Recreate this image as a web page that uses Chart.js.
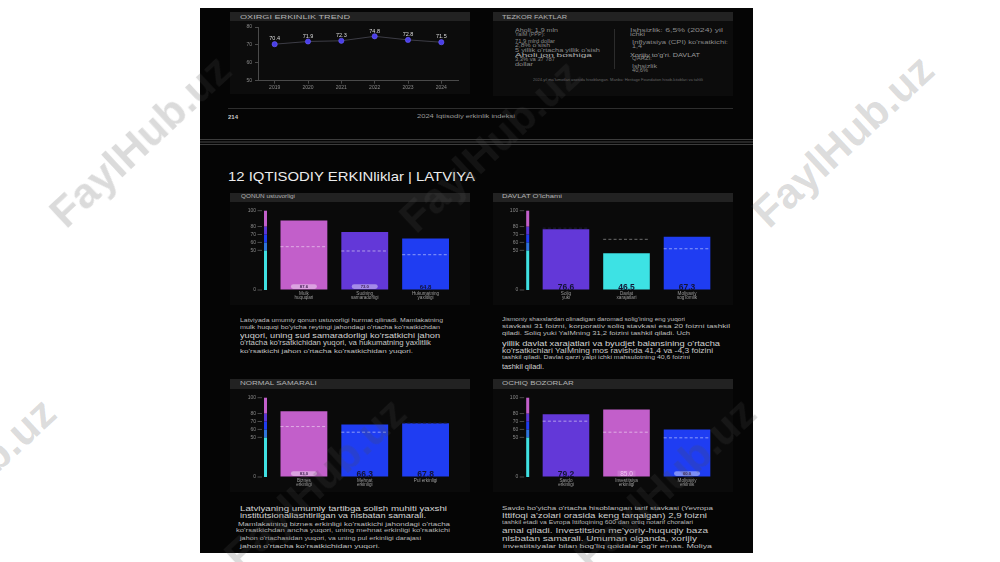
<!DOCTYPE html>
<html>
<head>
<meta charset="utf-8">
<script src="https://cdn.jsdelivr.net/npm/chart.js@4.4.1/dist/chart.umd.min.js"></script>
<style>
  html, body { margin: 0; width: 1000px; height: 562px; background: #fff; overflow: hidden; position: relative;
    font-family: "Liberation Sans", Arial, sans-serif; }
  .box { position: absolute; }
  .txt { position: absolute; white-space: nowrap; line-height: 1; transform-origin: 0 50%; }
  canvas { position: absolute; }
  .wm { position: absolute; white-space: nowrap; font: bold 43px "Liberation Sans", Arial, sans-serif;
    color: rgba(76,76,76,0.2); transform: translate(-50%, -50%) rotate(-43deg); pointer-events: none; }
</style>
</head>
<body>

<div class="box" style="left:200px;top:8px;width:553px;height:545px;background:#050505"></div>
<!-- page break -->
<div class="box" style="left:200px;top:139px;width:553px;height:1px;background:#3c3c3c"></div>
<div class="box" style="left:200px;top:141px;width:553px;height:2px;background:#262626"></div>
<div class="box" style="left:200px;top:144px;width:553px;height:1px;background:#3c3c3c"></div>

<!-- panels -->
<div class="box" style="left:230px;top:12px;width:240px;height:82px;background:#0c0c0c"></div>
<div class="box" style="left:230px;top:12px;width:240px;height:9px;background:#222"></div>
<div class="box" style="left:493px;top:12px;width:240px;height:84px;background:#0c0c0c"></div>
<div class="box" style="left:493px;top:12px;width:240px;height:9px;background:#222"></div>
<div class="box" style="left:614px;top:29px;width:1px;height:40px;background:#2c2c2c"></div>
<div class="box" style="left:228px;top:108px;width:505px;height:1px;background:#2e2e2e"></div>

<div class="box" style="left:230px;top:193px;width:240px;height:112px;background:#0a0a0a"></div>
<div class="box" style="left:230px;top:193px;width:240px;height:9px;background:#222"></div>
<div class="box" style="left:493px;top:193px;width:240px;height:112px;background:#0a0a0a"></div>
<div class="box" style="left:493px;top:193px;width:240px;height:9px;background:#222"></div>
<div class="box" style="left:230px;top:379px;width:240px;height:113px;background:#0a0a0a"></div>
<div class="box" style="left:230px;top:379px;width:240px;height:10px;background:#222"></div>
<div class="box" style="left:493px;top:379px;width:240px;height:113px;background:#0a0a0a"></div>
<div class="box" style="left:493px;top:379px;width:240px;height:10px;background:#222"></div>

<canvas id="trend" width="240" height="71" style="left:230px;top:21px"></canvas>
<canvas id="qonun" width="242" height="102" style="left:228px;top:203px"></canvas>
<canvas id="davlat" width="240" height="102" style="left:493px;top:203px"></canvas>
<canvas id="normal" width="242" height="102" style="left:228px;top:390px"></canvas>
<canvas id="ochiq" width="240" height="102" style="left:493px;top:390px"></canvas>

<script>
// ---- data ----
const trendYears = ["2019", "2020", "2021", "2022", "2023", "2024"];
const trendScores = [70.4, 71.9, 72.3, 74.8, 72.8, 71.5];

const scoreTicks = [0, 50, 60, 70, 80, 100];

const qonunLabels = [["Mulk", "huquqlari"], ["Sudning", "samaradorligi"], ["Hukumatning", "yaxlitligi"]];
const qonunScores = [87.6, 73.0, 64.8];
const qonunWorld = [54.6, 49.2, 44.5];

const davlatLabels = [["Soliq", "yuki"], ["Davlat", "xarajatlari"], ["Moliyaviy", "sog'lomlik"]];
const davlatScores = [76.6, 46.5, 67.3];
const davlatWorld = [78.0, 63.9, 52.0];

const normalLabels = [["Biznes", "erkinligi"], ["Mehnat", "erkinligi"], ["Pul erkinligi"]];
const normalScores = [83.0, 66.3, 67.8];
const normalWorld = [63.6, 56.5, 68.0];

const ochiqLabels = [["Savdo", "erkinligi"], ["Investitsiya", "erkinligi"], ["Moliyaviy", "erkinlik"]];
const ochiqScores = [79.2, 85.0, 60.0];
const ochiqWorld = [70.4, 56.5, 49.4];

// ---- colours ----
const bands = [
  { from: 0, to: 50, color: "#3fe0e2" },
  { from: 50, to: 60, color: "#2f74dc" },
  { from: 60, to: 70, color: "#1f3cf0" },
  { from: 70, to: 80, color: "#5b36d6" },
  { from: 80, to: 100, color: "#c25fca" },
];
function colorFor(v) {
  if (v >= 80) return "#c25fca";
  if (v >= 70) return "#6338d8";
  if (v >= 60) return "#1f3df2";
  if (v >= 50) return "#2f74dc";
  return "#3de2e4";
}

// ---- plugins ----
const pointLabels = {
  id: "pointLabels",
  afterDatasetsDraw(chart) {
    const { ctx } = chart;
    const ds = chart.data.datasets[0];
    ctx.save();
    ctx.fillStyle = "#dcdcdc";
    ctx.font = "5.5px 'Liberation Sans', Arial";
    ctx.textAlign = "center";
    ctx.textBaseline = "bottom";
    chart.getDatasetMeta(0).data.forEach((pt, i) => {
      ctx.fillText(ds.data[i].toFixed(1), pt.x, pt.y - 2.5);
    });
    ctx.restore();
  },
};

const barDecor = {
  id: "barDecor",
  afterDatasetsDraw(chart, args, opts) {
    const { ctx, chartArea, scales: { y } } = chart;
    const scores = chart.data.datasets[0].data;
    ctx.save();
    // colour key strip next to the axis
    const sx = chartArea.left - 9.5;
    bands.forEach((b) => {
      const top = y.getPixelForValue(b.to);
      const bot = y.getPixelForValue(b.from);
      ctx.fillStyle = b.color;
      ctx.fillRect(sx, top, 3, bot - top);
    });
    ctx.strokeStyle = "#5a5a5a";
    ctx.lineWidth = 0.8;
    scoreTicks.forEach((v) => {
      const py = y.getPixelForValue(v);
      ctx.beginPath();
      ctx.moveTo(chartArea.left - 16, py);
      ctx.lineTo(chartArea.left - 11.5, py);
      ctx.stroke();
    });
    const base = y.getPixelForValue(0);
    chart.getDatasetMeta(0).data.forEach((bar, i) => {
      const v = scores[i];
      // world average dashed mark
      const ref = opts.world[i];
      const ry = y.getPixelForValue(ref);
      let col = "rgba(255,255,255,0.55)";
      if (Math.abs(ref - v) < 2) col = "#20203c";
      else if (ref > v) col = "#777";
      ctx.strokeStyle = col;
      ctx.lineWidth = 0.9;
      ctx.setLineDash([3, 2.2]);
      ctx.beginPath();
      ctx.moveTo(bar.x - bar.width / 2, ry);
      ctx.lineTo(bar.x + bar.width / 2, ry);
      ctx.stroke();
      ctx.setLineDash([]);
      // value tag at the bottom of the bar
      const kind = opts.tags[i];
      const txt = v.toFixed(1);
      const cy = base - 3.4;
      ctx.textAlign = "center";
      ctx.textBaseline = "middle";
      if (kind === "pill") {
        ctx.fillStyle = "rgba(255,255,255,0.42)";
        ctx.beginPath();
        ctx.roundRect(bar.x - 13, cy - 2.4, 26, 4.8, 2.4);
        ctx.fill();
        ctx.fillStyle = "#3b1c4c";
        ctx.font = "bold 4.2px 'Liberation Sans', Arial";
        ctx.fillText(txt, bar.x, cy + 0.2);
      } else if (kind === "soft") {
        ctx.fillStyle = "rgba(255,255,255,0.12)";
        ctx.fillRect(bar.x - 9, cy - 3, 18, 6);
        ctx.fillStyle = "rgba(255,225,255,0.75)";
        ctx.font = "6.5px 'Liberation Sans', Arial";
        ctx.fillText(txt, bar.x, cy + 0.3);
      } else if (kind === "darksm") {
        ctx.fillStyle = "#141436";
        ctx.font = "bold 6px 'Liberation Sans', Arial";
        ctx.fillText(txt, bar.x, cy + 0.3);
      } else {
        ctx.fillStyle = "#141436";
        ctx.font = "bold 8.5px 'Liberation Sans', Arial";
        ctx.fillText(txt, bar.x, cy + 0.6);
      }
    });
    ctx.restore();
  },
};

// ---- trend line ----
new Chart(document.getElementById("trend"), {
  type: "line",
  data: {
    labels: trendYears,
    datasets: [{
      data: trendScores, borderColor: "#4a4a56", borderWidth: 0.8, tension: 0,
      pointRadius: 2.6, pointBackgroundColor: "#4a3fe6", pointBorderColor: "#6b5eff", pointBorderWidth: 0.6,
    }],
  },
  options: {
    responsive: false, animation: false,
    layout: { padding: { left: 2, right: 12, top: 6, bottom: 0 } },
    plugins: { legend: { display: false }, tooltip: { enabled: false } },
    scales: {
      x: {
        offset: true,
        grid: { drawOnChartArea: false, color: "#4a4a4a", tickLength: 3, offset: false },
        border: { color: "#4a4a4a" },
        ticks: { color: "#8c8c8c", font: { size: 5 }, padding: 1 },
        afterFit: (s) => { s.height = 11.3; },
      },
      y: {
        min: 50, max: 80,
        grid: { drawOnChartArea: false, color: "#4a4a4a", tickLength: 3 },
        border: { color: "#4a4a4a" },
        ticks: { stepSize: 10, color: "#8c8c8c", font: { size: 5 }, padding: 3 },
        afterFit: (s) => { s.width = 26; },
      },
    },
  },
  plugins: [pointLabels],
});

// ---- score bars ----
function scoreChart(id, labels, scores, world, tags, yWidth, padRight) {
  return new Chart(document.getElementById(id), {
    type: "bar",
    data: {
      labels,
      datasets: [{ data: scores, backgroundColor: scores.map(colorFor), barPercentage: 0.77, categoryPercentage: 1 }],
    },
    options: {
      responsive: false, animation: false,
      layout: { padding: { left: 0, right: padRight, top: 7.7, bottom: 0 } },
      plugins: { legend: { display: false }, tooltip: { enabled: false }, barDecor: { world, tags } },
      scales: {
        x: {
          grid: { display: false, drawTicks: false }, border: { display: false },
          ticks: { color: "#9c9c9c", font: { size: 4.6, lineHeight: 0.75 }, padding: 2.5, maxRotation: 0, autoSkip: false },
          afterFit: (s) => { s.height = 15; },
        },
        y: {
          min: 0, max: 100,
          // invisible tick marks push the labels clear of the colour strip
          grid: { drawOnChartArea: false, drawTicks: true, tickLength: 17.5, color: "rgba(0,0,0,0)" },
          border: { display: false },
          afterBuildTicks: (s) => { s.ticks = scoreTicks.map((v) => ({ value: v })); },
          ticks: { color: "#8a8a8a", font: { size: 5 }, padding: 0 },
          afterFit: (s) => { s.width = yWidth; },
        },
      },
    },
    plugins: [barDecor],
  });
}

scoreChart("qonun", qonunLabels, qonunScores, qonunWorld, ["pill", "pill", "darksm"], 45.5, 14);
scoreChart("davlat", davlatLabels, davlatScores, davlatWorld, ["dark", "dark", "dark"], 42.7, 15.7);
scoreChart("normal", normalLabels, normalScores, normalWorld, ["pill", "dark", "dark"], 45.5, 14);
scoreChart("ochiq", ochiqLabels, ochiqScores, ochiqWorld, ["dark", "soft", "pill"], 42.7, 15.7);

// ---- page text ----
// [text, x, y centre, font size, fitted width, colour, weight]
const pageText = [
  ["OXIRGI ERKINLIK TREND", 240, 16.5, 6, 110, "#b4b4b4", 400],
  ["TEZKOR FAKTLAR", 501.7, 16.5, 6, 65, "#b4b4b4", 400],
  ["Aholi: 1,9 mln", 515, 31, 4.5, 43, "#8a8a8a", 400],
  ["YaIM (PPP):", 515, 35, 4.5, 30, "#8a8a8a", 400],
  ["71,9 mlrd dollar", 515, 42, 4.5, 40, "#8a8a8a", 400],
  ["2,8% o'sish", 515, 46, 4.5, 35, "#8a8a8a", 400],
  ["5 yillik o'rtacha yillik o'sish", 515, 51, 4.5, 85, "#8a8a8a", 400],
  ["Aholi jon boshiga", 515, 56, 5.5, 77, "#b4b4b4", 400],
  ["3,3% va 37 787", 515, 60.5, 4.5, 40, "#8a8a8a", 400],
  ["dollar", 515, 65.5, 4.5, 18, "#8a8a8a", 400],
  ["Ishsizlik: 6,5% (2024) yil", 630, 31, 4.5, 93, "#8a8a8a", 400],
  ["ichki", 630, 35, 4.5, 15, "#8a8a8a", 400],
  ["Inflyatsiya (CPI) ko'rsatkichi:", 632, 43, 4.5, 96, "#8a8a8a", 400],
  ["1,4", 632, 47, 4.5, 10, "#8a8a8a", 400],
  ["Xorijiy to'g'ri. DAVLAT", 630, 55, 5, 70, "#9a9a9a", 400],
  ["QARZI:", 632, 59, 4.5, 20, "#8a8a8a", 400],
  ["Ishsizlik", 632, 67, 4.5, 25, "#8a8a8a", 400],
  ["40,6%", 632, 71, 4.5, 16, "#8a8a8a", 400],
  ["2024-yil ma'lumotlari asosida hisoblangan. Manba: Heritage Foundation hisob-kitoblari va tahlili", 533, 80.7, 3.5, 170, "#666", 400],
  ["214", 228, 117, 6, 10, "#c8c8c8", 700],
  ["2024 Iqtisodiy erkinlik indeksi", 416.7, 117, 5.5, 98, "#9a9a9a", 400],
  ["12 IQTISODIY ERKINliklar | LATVIYA", 228, 176.7, 13, 247, "#ececec", 400],
  ["QONUN ustuvorligi", 240.7, 197.2, 5.5, 54, "#b4b4b4", 400],
  ["DAVLAT O'lchami", 501.7, 197.2, 5.5, 60, "#b4b4b4", 400],
  ["NORMAL SAMARALI", 240, 384, 5.5, 76.7, "#b4b4b4", 400],
  ["OCHIQ BOZORLAR", 501.7, 384, 5.5, 71.7, "#b4b4b4", 400],
  // QONUN text
  ["Latviyada umumiy qonun ustuvorligi hurmat qilinadi. Mamlakatning", 240, 321, 5.2, 203, "#bdbdbd", 400],
  ["mulk huquqi bo'yicha reytingi jahondagi o'rtacha ko'rsatkichdan", 240, 327.3, 5.2, 200, "#bdbdbd", 400],
  ["yuqori, uning sud samaradorligi ko'rsatkichi jahon", 240, 335, 7, 200, "#d2d2d2", 400],
  ["o'rtacha ko'rsatkichidan yuqori, va hukumatning yaxlitlik", 240, 343.3, 6.3, 191, "#c8c8c8", 400],
  ["ko'rsatkichi jahon o'rtacha ko'rsatkichidan yuqori.", 240, 352, 5.8, 173, "#c2c2c2", 400],
  // DAVLAT text
  ["Jismoniy shaxslardan olinadigan daromad solig'ining eng yuqori", 501.7, 320, 5.2, 183, "#bdbdbd", 400],
  ["stavkasi 31 foizni, korporativ soliq stavkasi esa 20 foizni tashkil", 501.7, 327, 5.2, 228, "#bdbdbd", 400],
  ["qiladi. Soliq yuki YaIMning 31,2 foizini tashkil qiladi. Uch", 501.7, 334, 5.2, 188, "#bdbdbd", 400],
  ["yillik davlat xarajatlari va byudjet balansining o'rtacha", 501.7, 343, 7, 218, "#d2d2d2", 400],
  ["ko'rsatkichlari YaIMning mos ravishda 41,4 va -4,3 foizini", 501.7, 350.7, 6.3, 211, "#c8c8c8", 400],
  ["tashkil qiladi. Davlat qarzi yalpi ichki mahsulotning 40,6 foizini", 501.7, 358, 5.2, 188, "#bdbdbd", 400],
  ["tashkil qiladi.", 501.7, 366.7, 7, 42, "#d2d2d2", 400],
  // NORMAL text
  ["Latviyaning umumiy tartibga solish muhiti yaxshi", 240, 509, 7.5, 207, "#d6d6d6", 400],
  ["institutsionallashtirilgan va nisbatan samarali.", 240, 516.2, 7.5, 186, "#d6d6d6", 400],
  ["Mamlakatning biznes erkinligi ko'rsatkichi jahondagi o'rtacha", 238, 524.7, 5.2, 212, "#bdbdbd", 400],
  ["ko'rsatkichdan ancha yuqori, uning mehnat erkinligi ko'rsatkichi", 236, 531.7, 4.8, 214, "#b6b6b6", 400],
  ["jahon o'rtachasidan yuqori, va uning pul erkinligi darajasi", 240, 538.7, 5, 181, "#b6b6b6", 400],
  ["jahon o'rtacha ko'rsatkichidan yuqori.", 240, 546.7, 5.8, 140, "#c2c2c2", 400],
  // OCHIQ text
  ["Savdo bo'yicha o'rtacha hisoblangan tarif stavkasi (Yevropa", 501.7, 509, 5.5, 211, "#c0c0c0", 400],
  ["Ittifoqi a'zolari orasida keng tarqalgan) 2,9 foizni", 501.7, 516, 6.8, 205, "#d0d0d0", 400],
  ["tashkil etadi va Evropa Ittifoqining 600 dan ortiq notarif choralari", 501.7, 523, 4.8, 191, "#b6b6b6", 400],
  ["amal qiladi. Investitsion me'yoriy-huquqiy baza", 501.7, 531, 6.3, 206, "#c8c8c8", 400],
  ["nisbatan samarali. Umuman olganda, xorijiy", 501.7, 539, 6.3, 195, "#c8c8c8", 400],
  ["investitsiyalar bilan bog'liq qoidalar og'ir emas. Moliya", 502.7, 547, 5.5, 209, "#c0c0c0", 400],
];

pageText.forEach(([t, x, y, size, width, color, weight]) => {
  const d = document.createElement("div");
  d.className = "txt";
  d.textContent = t;
  d.style.left = `${x}px`;
  d.style.top = `${y - size / 2}px`;
  d.style.fontSize = `${size}px`;
  d.style.color = color;
  d.style.fontWeight = weight;
  document.body.appendChild(d);
  const w = d.getBoundingClientRect().width;
  if (width && w) d.style.transform = `scaleX(${width / w})`;
});

// watermark overlay
[[140, 141], [490, 146], [843, 141], [-35, 484], [315, 484], [665, 484]].forEach(([x, y]) => {
  const d = document.createElement("div");
  d.className = "wm";
  d.textContent = "FaylHub.uz";
  d.style.left = `${x}px`;
  d.style.top = `${y}px`;
  document.body.appendChild(d);
});
</script>
</body>
</html>
